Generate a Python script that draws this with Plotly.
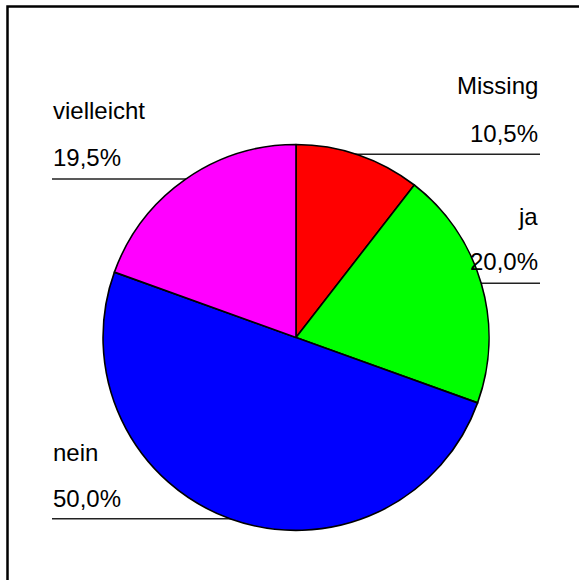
import plotly.graph_objects as go

categories = ["Missing", "ja", "nein", "vielleicht"]
values = [10.5, 20.0, 50.0, 19.5]
colors = ["#FF0000", "#00FF00", "#0000FF", "#FF00FF"]

W, H = 579, 580

def px(x):
    return x / W

def py(y):
    return 1 - y / H

fig = go.Figure()
fig.add_trace(go.Pie(
    labels=categories,
    values=values,
    sort=False,
    direction="clockwise",
    rotation=0,
    textinfo="none",
    hoverinfo="label+percent",
    marker=dict(colors=colors, line=dict(color="black", width=1.6)),
    domain=dict(x=[px(103), px(489)], y=[py(531), py(144)]),
    showlegend=False,
))

def pct(v):
    return f"{v:.1f}".replace(".", ",") + "%"

# label layout: (name line y, pct line y, leader y, side)
label_pos = {
    "Missing": (85.5, 133.5, 154.3, "right"),
    "ja": (216, 261.5, 283.3, "right"),
    "nein": (452.5, 498.7, 518.7, "left"),
    "vielleicht": (110, 157.5, 179, "left"),
}

font = dict(family="Liberation Sans, Arial, sans-serif", size=24, color="#000000")
shapes = []
annotations = []
for cat, v in zip(categories, values):
    y1, y2, yl, side = label_pos[cat]
    if side == "right":
        xa, anchor = px(540), "right"
        shapes.append(dict(type="line", xref="paper", yref="paper", layer="below",
                           x0=px(296), x1=px(540), y0=py(yl), y1=py(yl),
                           line=dict(color="#222222", width=1.5)))
    else:
        xa, anchor = px(51), "left"
        shapes.append(dict(type="line", xref="paper", yref="paper", layer="below",
                           x0=px(52), x1=px(296), y0=py(yl), y1=py(yl),
                           line=dict(color="#222222", width=1.5)))
    annotations.append(dict(text=cat, x=xa, y=py(y1), xref="paper", yref="paper",
                            xanchor=anchor, yanchor="middle", showarrow=False, font=font))
    annotations.append(dict(text=pct(v), x=xa, y=py(y2), xref="paper", yref="paper",
                            xanchor=anchor, yanchor="middle", showarrow=False, font=font))

# frame (top and left edges visible)
shapes.append(dict(type="path", xref="paper", yref="paper", layer="above",
                   path=f"M {px(7.5)} {py(600)} L {px(7.5)} {py(6.5)} L {px(600)} {py(6.5)}",
                   line=dict(color="black", width=2.5)))

fig.update_layout(
    width=W, height=H,
    margin=dict(l=0, r=0, t=0, b=0),
    paper_bgcolor="white",
    plot_bgcolor="white",
    shapes=shapes,
    annotations=annotations,
)

fig.write_html("out.html",
               config={"displayModeBar": False},
               post_script="document.body.style.margin='0px';document.body.style.overflow='hidden';")
